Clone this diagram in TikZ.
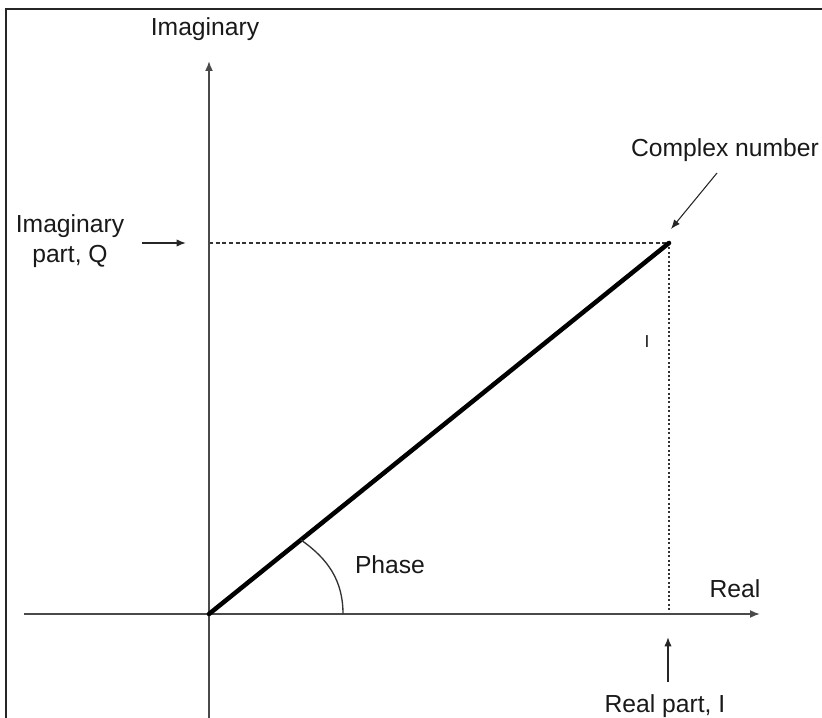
\documentclass[tikz,border=0pt]{standalone}
\usepackage{fontspec}
\setmainfont{Liberation Sans}
\usetikzlibrary{arrows.meta, positioning, calc}
\definecolor{axisGray}{HTML}{4A4A4A}

\begin{document}
\begin{tikzpicture}[x=0.75pt, y=0.75pt,
    lbl/.style={inner sep=0pt, text=black!90, font=\fontsize{18.5}{23}\selectfont},
    axis/.style={draw=axisGray, line width=1.3pt, -{Latex[length=7.5pt, width=6pt]}},
    pointer/.style={draw=black!85, line width=1.1pt, -{Latex[length=7pt, width=5.5pt]}}]
    \useasboundingbox (0,0) rectangle (822,718);
    % frame (only top and left edges are visible)
    \draw[line width=1.6pt, black!85] (6,0) -- (6,709) -- (822,709);

    % axes and the phasor
    \coordinate (O) at (209,104);
    \coordinate (P) at (669,475);
    \coordinate (xs) at (24,104);
    \coordinate (xe) at (760,104);
    \coordinate (ys) at (209,0);
    \coordinate (ye) at (209,657);
    \coordinate (Px) at (669,104);
    \coordinate (Py) at (209,475);
    \draw[black!80, line width=0.9pt, dash pattern=on 3pt off 2pt] (Py) -- (P);
    \draw[black!80, line width=1pt, dash pattern=on 1.5pt off 1.8pt] (P) -- (Px);
    \draw[axis] (xs) -- (xe);
    \draw[axis] (ys) -- (ye);
    \draw[line width=3.4pt, line cap=round] (O) -- (P);
    % phase arc
    \coordinate (arcA) at (343,104);
    \coordinate (arcB) at (301,178);
    \draw[black!80, line width=1pt] (arcA) to[out=90, in=-35] (arcB);

    % labels
    \node[lbl] (imag) at (205,689) {Imaginary};
    \node[lbl, align=center] (qpart) at (70,477) {Imaginary\\part, Q};
    \node[lbl] (cplx) at (725,568) {Complex number};
    \node[lbl] (phase) at (390,153) {Phase};
    \node[lbl] (real) at (735,129) {Real};
    \node[lbl] (ipart) at (665,12) {Real part, I};
    \node[lbl, font=\fontsize{13}{14}\selectfont] (tickI) at (647,376) {I};

    % pointers to the parts
    \coordinate (qa) at (142,475);
    \coordinate (qb) at (186,475);
    \draw[pointer] (qa) -- (qb);
    \coordinate (ca) at (717,545);
    \coordinate (cb) at (671,489);
    \draw[pointer, line width=0.8pt] (ca) -- (cb);
    \coordinate (ia) at (668,36);
    \coordinate (ib) at (668,81);
    \draw[pointer] (ia) -- (ib);
  \end{tikzpicture}
\end{document}
